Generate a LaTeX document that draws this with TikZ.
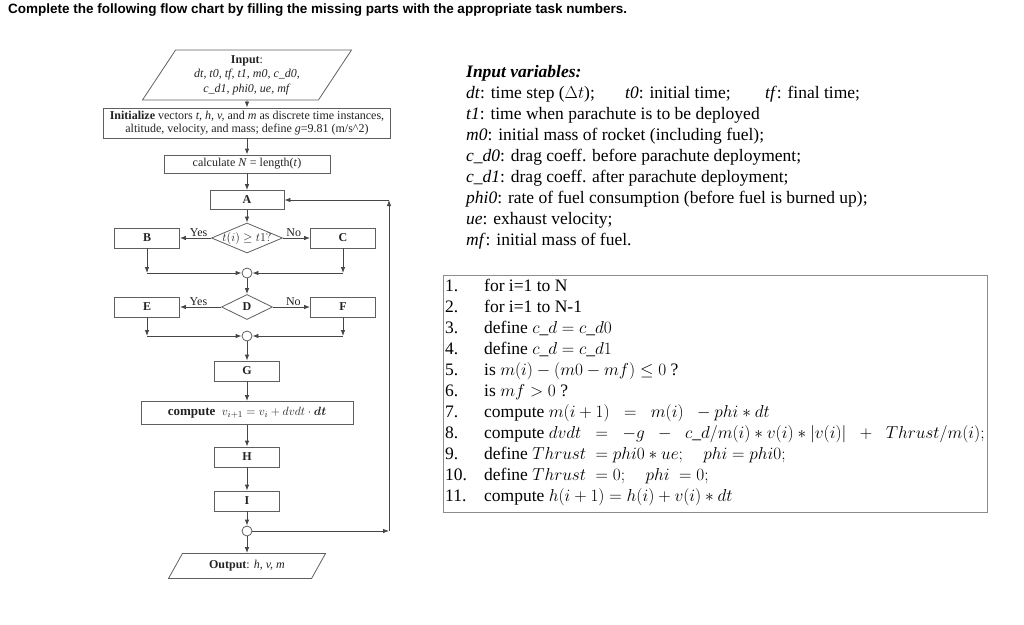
\documentclass[tikz,border=0pt]{standalone}
\usepackage{amsmath}
\usepackage{fontspec}
\setmainfont{Liberation Serif}
\newfontfamily\headfont{Liberation Sans}
\usetikzlibrary{positioning,arrows.meta,shapes.geometric}
\definecolor{fcLine}{RGB}{70,70,70}
\definecolor{fcBox}{RGB}{95,95,95}
\definecolor{fcText}{RGB}{35,35,35}
\definecolor{fcFrame}{RGB}{140,140,140}
\tikzset{
    base/.style={font=\fontsize{12}{13.5}\selectfont, align=center, text=fcText, inner sep=0pt},
    task/.style={base, rectangle, draw=fcBox, line width=0.8pt, fill=white},
    slot/.style={task, font=\fontsize{12}{13}\selectfont\bfseries, minimum width=65pt, minimum height=20pt},
    decision/.style={base, diamond, draw=fcBox, line width=0.8pt, fill=white},
    inout/.style={base, trapezium, draw=fcBox, line width=0.8pt, trapezium stretches body},
    junction/.style={circle, draw=fcBox, line width=0.8pt, fill=white, minimum size=10pt, inner sep=0pt},
    flow/.style={-{Latex[length=6pt,width=4.5pt]}, line width=0.8pt, draw=fcLine},
    branch/.style={font=\fontsize{12}{13}\selectfont, text=fcText, inner sep=1pt},
    prose/.style={font=\fontsize{17.5}{21}\selectfont, align=left, text=black, inner sep=0pt}
}

\begin{document}
\begin{tikzpicture}[x=1pt, y=-1pt]
  \useasboundingbox (0,0) rectangle (1024,624);

  % Title
  \node[anchor=west, font=\headfont\bfseries\fontsize{13.5}{15}\selectfont, inner sep=0pt] (title) at (8,10)
    {Complete the following flow chart by filling the missing parts with the appropriate task numbers.};

  % Flow chart
  \node[inout, trapezium left angle=50, trapezium right angle=130, minimum width=209pt, minimum height=50pt,
        font=\fontsize{12}{14.5}\selectfont] (inp) at (247,75)
    {\textbf{Input}:\\ \textit{dt, t0, tf, t1, m0, c\_d0,}\\ \textit{c\_d1, phi0, ue, mf}};
  \node[task, minimum width=287pt, minimum height=30pt] (init) at (247,123)
    {\textbf{Initialize} vectors \textit{t, h, v,} and \textit{m} as discrete time instances,\\
     altitude, velocity, and mass; define \textit{g}=9.81 (m/s\textasciicircum 2)};
  \node[task, minimum width=166pt, minimum height=18pt] (calc) at (247,164) {calculate \textit{N} = length(\textit{t})};
  \node[slot, minimum width=74pt, minimum height=19pt] (A) at (247,200) {A};
  \node[decision, minimum width=71pt, minimum height=30pt,
        label={[base, font=\fontsize{12}{13}\selectfont]center:$t(i) \geq t1?$}] (dec1) at (247,238) {};
  \node[slot] (B) at (147,238) {B};
  \node[slot] (C) at (343,238) {C};
  \node[junction] (j1) at (247,273) {};
  \node[decision, minimum width=51pt, minimum height=25pt, font=\fontsize{12}{13}\selectfont\bfseries] (D) at (247,307) {D};
  \node[slot] (E) at (147,307) {E};
  \node[slot] (F) at (343,307) {F};
  \node[junction] (j2) at (247,336) {};
  \node[slot] (G) at (247,371) {G};
  \node[task, minimum width=212pt, minimum height=23pt, font=\fontsize{13}{15}\selectfont] (comp) at (247,413)
    {\textbf{compute}\ \ $v_{i+1} = v_i + dvdt \cdot \boldsymbol{dt}$};
  \node[slot] (H) at (247,457) {H};
  \node[slot] (I) at (247,501) {I};
  \node[junction] (j3) at (247,531) {};
  \node[inout, trapezium left angle=38, trapezium right angle=142, minimum width=157pt, minimum height=25pt] (out) at (247,566)
    {\textbf{Output}: \textit{h, v, m}};

  % Loop back to A
  \coordinate (loopR) at (389,531);
  \coordinate (loopT) at (389,200);

  % Connectors
  \draw[flow] (inp) -- (init);
  \draw[flow] (init) -- (calc);
  \draw[flow] (calc) -- (A);
  \draw[flow] (A) -- (dec1);
  \draw[flow] (dec1) -- node[branch, above, pos=0.4] {Yes} (B);
  \draw[flow] (dec1) -- node[branch, above, pos=0.4] {No} (C);
  \draw[flow] (B) -- (B |- j1);
  \draw[flow] (B |- j1) -- (j1);
  \draw[flow] (C) -- (C |- j1);
  \draw[flow] (C |- j1) -- (j1);
  \draw[flow] (j1) -- (D);
  \draw[flow] (D) -- node[branch, above, pos=0.55] {Yes} (E);
  \draw[flow] (D) -- node[branch, above, pos=0.55] {No} (F);
  \draw[flow] (E) -- (E |- j2);
  \draw[flow] (E |- j2) -- (j2);
  \draw[flow] (F) -- (F |- j2);
  \draw[flow] (F |- j2) -- (j2);
  \draw[flow] (j2) -- (G);
  \draw[flow] (G) -- (comp);
  \draw[flow] (comp) -- (H);
  \draw[flow] (H) -- (I);
  \draw[flow] (I) -- (j3);
  \draw[flow] (j3) -- (out);
  \draw[flow] (j3) -- (loopR);
  \draw[flow] (loopR) -- (loopT);
  \draw[flow] (loopT) -- (A);

  % Input variables
  \node[prose, anchor=north west] (vars) at (466,65) {%
    \textbf{\textit{Input variables:}}\\
    \makebox[159pt][l]{\textit{dt}: time step ($\Delta t$);}\makebox[140pt][l]{\textit{t0}: initial time;}\textit{tf}: final time;\\
    \textit{t1}: time when parachute is to be deployed\\
    \textit{m0}: initial mass of rocket (including fuel);\\
    \textit{c\_d0}: drag coeff. before parachute deployment;\\
    \textit{c\_d1}: drag coeff. after parachute deployment;\\
    \textit{phi0}: rate of fuel consumption (before fuel is burned up);\\
    \textit{ue}: exhaust velocity;\\
    \textit{mf}: initial mass of fuel.};

  % Task list
  \node[draw=fcFrame, line width=0.8pt, minimum width=544pt, minimum height=237pt, anchor=north west, inner sep=0pt] (tasks) at (443,275) {};
  \node[prose, anchor=north west] (steps) at (445,277) {%
    \begin{tabular}{@{}p{39pt}@{}l@{}}
      1. & for i=1 to N\\
      2. & for i=1 to N-1\\
      3. & define $c\_d = c\_d0$\\
      4. & define $c\_d = c\_d1$\\
      5. & is $m(i) - (m0 - mf) \leq 0$ ?\\
      6. & is $mf > 0$ ?\\
      7. & compute $m(i+1) \;\;=\;\; m(i) \;\;- phi * dt$\\
      8. & compute $dvdt \;\;=\;\; -g \;\;-\;\; c\_d/m(i) * v(i) * |v(i)| \;\;+\;\; Thrust/m(i);$\\
      9. & define $Thrust\; = phi0 * ue;\quad phi = phi0;$\\
      10. & define $Thrust\; = 0;\quad phi\; = 0;$\\
      11. & compute $h(i+1) = h(i) + v(i) * dt$
    \end{tabular}};
\end{tikzpicture}
\end{document}
